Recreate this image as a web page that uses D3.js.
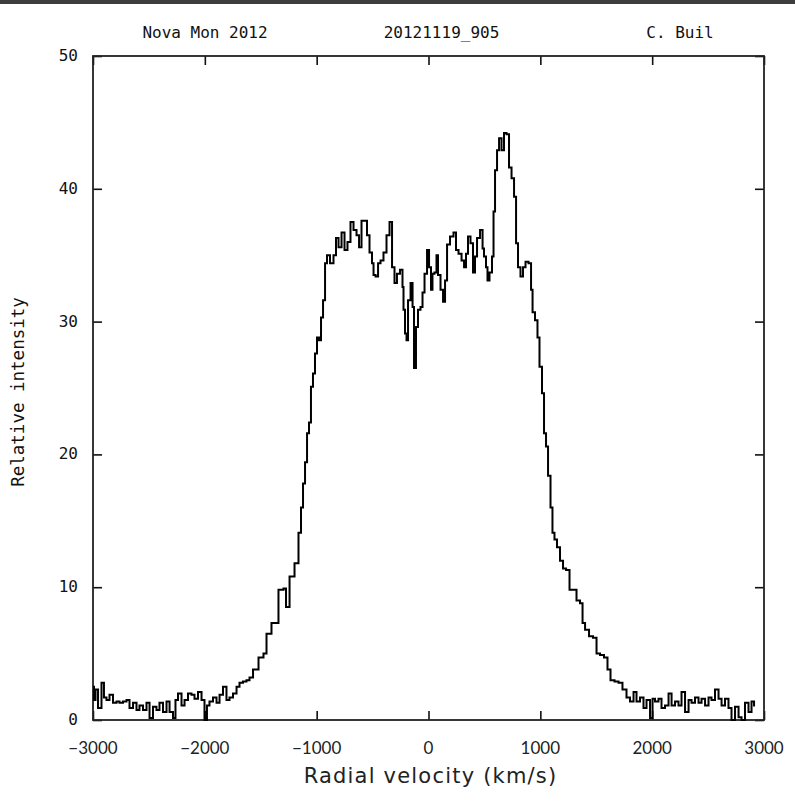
<!DOCTYPE html>
<html>
<head>
<meta charset="utf-8">
<script src="https://cdn.jsdelivr.net/npm/d3@7"></script>
<style>
  body { margin: 0; background: #fff; }
  .mono { font-family: "DejaVu Sans Mono", monospace; fill: #111; }
  .round { font-family: Lato, "Open Sans", sans-serif; fill: #222; }
  .wide { font-family: "DejaVu Sans", sans-serif; fill: #222; }
</style>
</head>
<body>
<div id="chart"></div>
<script>
// ── Data ─────────────────────────────────────────────────────────────────
const velocity = [
  -3000, -2982, -2973, -2937, -2911, -2893, -2866, -2839, -2803, -2776,
  -2750, -2714, -2687, -2660, -2624, -2598, -2571, -2535, -2508, -2481,
  -2446, -2419, -2392, -2356, -2329, -2302, -2267, -2258, -2222, -2195,
  -2168, -2133, -2106, -2079, -2043, -2016, -1990, -1972, -1945, -1909,
  -1882, -1855, -1820, -1793, -1766, -1730, -1703, -1677, -1641, -1614,
  -1587, -1551, -1489, -1462, -1435, -1373, -1310, -1283, -1265, -1220,
  -1176, -1149, -1131, -1113, -1095, -1077, -1060, -1042, -1024, -1006,
  -988, -970, -952, -934, -916, -899, -863, -836, -818, -791,
  -764, -738, -711, -684, -657, -630, -612, -586, -559, -541,
  -514, -496, -487, -460, -442, -416, -389, -362, -335, -317,
  -291, -273, -237, -228, -219, -201, -192, -174, -147, -138,
  -121, -103, -85, -58, -49, -22, -4, 14, 31, 40,
  67, 76, 94, 121, 139, 157, 175, 210, 237, 255,
  282, 309, 327, 344, 362, 389, 407, 425, 443, 479,
  488, 505, 523, 532, 559, 577, 586, 604, 622, 640,
  666, 684, 711, 729, 756, 774, 792, 809, 836, 854,
  881, 908, 926, 935, 970, 979, 1006, 1024, 1042, 1060,
  1078, 1104, 1113, 1140, 1158, 1194, 1212, 1248, 1274, 1310,
  1337, 1373, 1382, 1418, 1453, 1489, 1516, 1552, 1587, 1614,
  1641, 1686, 1712, 1757, 1784, 1820, 1847, 1873, 1909, 1936,
  1963, 1999, 2008, 2043, 2070, 2097, 2133, 2160, 2187, 2222,
  2249, 2276, 2312, 2339, 2365, 2401, 2428, 2455, 2491, 2517,
  2544, 2580, 2607, 2634, 2669, 2696, 2723, 2759, 2786, 2812,
  2848, 2875, 2902, 2920
];

const intensity = [
  2.5, 1.5, 2.3, 0.9, 2.8, 1.7, 1.5, 1.9, 1.3, 1.4,
  1.3, 1.4, 1.5, 0.9, 1.3, 0.75, 1.1, 0.75, 1.3, 0.15,
  1.0, 0.75, 1.3, 0.6, 1.4, 0.6, 0.15, 1.5, 2.0, 1.1,
  1.5, 2.0, 1.9, 1.6, 2.1, 1.5, 0.0, 1.1, 1.4, 1.7,
  1.3, 1.9, 2.5, 1.5, 1.7, 2.0, 2.5, 2.8, 2.9, 3.0,
  3.2, 3.8, 4.7, 5.0, 6.5, 7.3, 9.8, 9.9, 8.5, 10.8,
  11.8, 14.1, 16.0, 17.8, 19.4, 21.6, 22.4, 25.1, 26.1, 27.6,
  28.8, 28.6, 30.3, 31.6, 34.4, 35.0, 34.4, 35.0, 36.3, 35.6,
  36.7, 35.4, 36.0, 37.5, 36.9, 36.5, 35.6, 37.6, 37.6, 36.5,
  35.2, 34.4, 33.5, 33.4, 34.4, 34.6, 35.2, 36.5, 37.5, 34.1,
  32.9, 33.6, 33.9, 32.6, 30.9, 29.1, 28.6, 31.6, 32.9, 31.1,
  26.5, 29.6, 30.9, 31.1, 32.2, 33.6, 35.4, 34.1, 32.4, 33.6,
  33.7, 35.0, 33.5, 32.4, 31.5, 33.1, 35.8, 36.4, 36.7, 35.4,
  35.1, 34.6, 34.1, 35.1, 36.4, 35.9, 33.7, 34.9, 36.3, 36.9,
  35.5, 34.9, 34.1, 33.1, 33.7, 34.9, 38.3, 41.4, 42.9, 43.8,
  42.9, 44.2, 44.1, 41.6, 40.8, 39.4, 35.9, 34.1, 33.4, 34.1,
  34.5, 34.4, 32.4, 30.7, 30.1, 28.8, 26.6, 24.6, 21.6, 20.6,
  18.4, 16.0, 14.1, 13.6, 13.0, 12.0, 11.4, 11.3, 9.8, 9.8,
  9.0, 8.8, 7.3, 6.8, 6.3, 6.2, 5.0, 4.9, 4.7, 3.8,
  3.0, 2.9, 2.8, 2.3, 1.7, 1.4, 2.1, 1.4, 1.7, 0.9,
  1.5, 0.15, 1.6, 1.4, 1.6, 0.9, 1.1, 2.0, 1.1, 1.4,
  1.1, 2.1, 0.6, 1.5, 1.3, 1.7, 1.3, 1.6, 1.1, 1.7,
  1.5, 2.3, 1.6, 1.1, 1.6, 0.9, 0.0, 1.0, 0.2, 0.0,
  1.3, 0.6, 1.4, 1.1
];

const xTicks = [-3000, -2000, -1000, 0, 1000, 2000, 3000];
const yTicks = [0, 10, 20, 30, 40, 50];
const headerLabels = ["Nova Mon 2012", "20121119_905", "C. Buil"];
const xLabel = "Radial velocity (km/s)";
const yLabel = "Relative intensity";

// ── Layout ───────────────────────────────────────────────────────────────
const W = 795, H = 803;
const margin = { top: 56, right: 31, bottom: 83, left: 93 };
const width = W - margin.left - margin.right;
const height = H - margin.top - margin.bottom;
const tickLen = 9;

const svg = d3.select("#chart").append("svg")
  .attr("width", W).attr("height", H);

svg.append("rect").attr("width", W).attr("height", H).attr("fill", "#fff");
// dark strip at the very top of the page
svg.append("rect").attr("width", W).attr("height", 4).attr("fill", "#3d3d3d");

const g = svg.append("g").attr("transform", `translate(${margin.left},${margin.top})`);

// ── Scales ───────────────────────────────────────────────────────────────
const x = d3.scaleLinear().domain([-3000, 3000]).range([0, width]);
const y = d3.scaleLinear().domain([0, 50]).range([height, 0]);

// ── Inward ticks on all four sides ──────────────────────────────────────
const noLabel = () => "";
g.append("g").attr("transform", `translate(0,${height})`)
  .call(d3.axisTop(x).tickValues(xTicks).tickSize(tickLen).tickFormat(noLabel));
g.append("g")
  .call(d3.axisBottom(x).tickValues(xTicks).tickSize(tickLen).tickFormat(noLabel));
g.append("g")
  .call(d3.axisRight(y).tickValues(yTicks).tickSize(tickLen).tickFormat(noLabel));
g.append("g").attr("transform", `translate(${width},0)`)
  .call(d3.axisLeft(y).tickValues(yTicks).tickSize(tickLen).tickFormat(noLabel));
g.selectAll(".domain").remove();
g.selectAll(".tick line").attr("stroke", "#111").attr("stroke-width", 1.6);

// frame
g.append("rect")
  .attr("width", width).attr("height", height)
  .attr("fill", "none").attr("stroke", "#222").attr("stroke-width", 1.8);

// ── Tick labels ──────────────────────────────────────────────────────────
g.selectAll(".ylab").data(yTicks).join("text")
  .attr("class", "mono")
  .attr("x", -15).attr("y", d => y(d) + 5)
  .attr("text-anchor", "end")
  .style("font-size", "16px")
  .text(d => d);

g.selectAll(".xlab").data(xTicks).join("text")
  .attr("class", "round")
  .attr("x", d => x(d)).attr("y", height + 34)
  .attr("text-anchor", "middle")
  .style("font-size", "17px")
  .text(d => d3.format("")(d).replace("-", "\u2212"));

// ── Axis titles ──────────────────────────────────────────────────────────
svg.append("text")
  .attr("class", "wide")
  .attr("x", margin.left + width / 2 + 2).attr("y", 783)
  .attr("text-anchor", "middle")
  .style("font-size", "21px")
  .style("letter-spacing", "1.2px")
  .text(xLabel);

svg.append("text")
  .attr("class", "mono")
  .attr("transform", `translate(24,${margin.top + height / 2 + 4}) rotate(-90)`)
  .attr("text-anchor", "middle")
  .style("font-size", "17.5px")
  .text(yLabel);

// ── Header line ──────────────────────────────────────────────────────────
const headerX = d3.scalePoint().domain(headerLabels).range([205, 680]);
svg.selectAll(".hdr").data(headerLabels).join("text")
  .attr("class", "mono")
  .attr("x", d => headerX(d) + (d === "20121119_905" ? -1 : 0))
  .attr("y", 38)
  .attr("text-anchor", "middle")
  .style("font-size", "16px")
  .text(d => d);

// ── Spectrum (stepped line) ─────────────────────────────────────────────
const rows = velocity.map((v, i) => ({ v, f: intensity[i] }));
const line = d3.line()
  .x(d => x(d.v))
  .y(d => y(d.f))
  .curve(d3.curveStep);

g.append("path")
  .datum(rows)
  .attr("fill", "none")
  .attr("stroke", "#000")
  .attr("stroke-width", 2)
  .attr("stroke-linejoin", "miter")
  .attr("d", line);
</script>
</body>
</html>
